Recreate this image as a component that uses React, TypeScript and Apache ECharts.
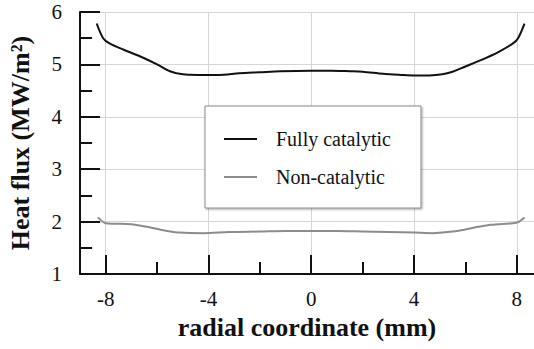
import React, { useEffect, useRef } from "react";
import * as echarts from "echarts";

const fullyX = [-8.35, -8.1, -7.85, -7.3, -6.65, -6.0, -5.5, -5.0, -4.4, -3.6, -2.8, -2.0, -1.2, 0, 0.75, 1.5, 2.0, 2.8, 3.5, 4.0, 4.6, 5.1, 5.5, 6.0, 6.6, 7.3, 7.85, 8.05, 8.3];
const fullyY = [5.78, 5.5, 5.4, 5.28, 5.15, 5.0, 4.87, 4.81, 4.8, 4.8, 4.83, 4.85, 4.87, 4.88, 4.88, 4.87, 4.86, 4.82, 4.8, 4.79, 4.79, 4.81, 4.86, 4.96, 5.08, 5.24, 5.4, 5.5, 5.78];

const nonX = [-8.3, -8.0, -7.0, -6.4, -5.8, -5.1, -4.2, -3.2, -2.0, -1.0, 0, 1.0, 2.0, 3.0, 4.0, 4.75, 5.3, 5.9, 6.5, 7.0, 7.85, 8.05, 8.3];
const nonY = [2.08, 1.97, 1.95, 1.9, 1.84, 1.79, 1.78, 1.8, 1.81, 1.82, 1.82, 1.82, 1.81, 1.8, 1.79, 1.78, 1.8, 1.84, 1.9, 1.94, 1.97, 1.99, 2.08];

const xMajorTicks = [-8, -4, 0, 4, 8];
const xMinorTicks = [-6, -2, 2, 6];
const yMajorTicks = [2, 3, 4, 5, 6];
const yLabels = [1, 2, 3, 4, 5, 6];
const yMinorTicks = [1.5, 2.5, 3.5, 4.5, 5.5];

const X_MIN = -9;
const X_MAX = 8.67;

const FONT = "'Liberation Serif', 'Times New Roman', Times, serif";

export default function App() {
  const ref = useRef<HTMLDivElement>(null);
  useEffect(() => {
    const chart = echarts.init(ref.current!, null, { renderer: "svg" });
    const pairs = (xs: number[], ys: number[]) => xs.map((x, i) => [x, ys[i]]);
    const majorLen = 0.78;
    const minorLen = 0.47;
    const tickLines = [
      ...yMajorTicks.map((v) => [{ coord: [X_MIN, v] }, { coord: [X_MIN + majorLen, v] }]),
      ...yMinorTicks.map((v) => [{ coord: [X_MIN, v] }, { coord: [X_MIN + minorLen, v] }]),
    ];
    chart.setOption({
      animation: false,
      backgroundColor: "#fff",
      textStyle: { fontFamily: FONT },
      grid: { left: 80, right: 0, top: 12, bottom: 75, outerBoundsMode: "none", containLabel: false },
      legend: {
        orient: "vertical",
        left: 205,
        top: 106,
        itemWidth: 33,
        itemHeight: 17,
        itemGap: 18,
        padding: [23, 30, 21, 18],
        backgroundColor: "#fff",
        borderColor: "#8a8a8a",
        borderWidth: 1,
        shadowColor: "rgba(0,0,0,0.35)",
        shadowBlur: 2,
        shadowOffsetX: 1,
        shadowOffsetY: 1,
        itemStyle: { opacity: 0 },
        textStyle: { fontFamily: FONT, fontSize: 20, color: "#111", padding: [0, 0, 0, 14] },
        data: ["Fully catalytic", "Non-catalytic"],
      },
      xAxis: [
        {
          type: "value",
          min: X_MIN,
          max: X_MAX,
          name: "radial coordinate (mm)",
          nameLocation: "middle",
          nameGap: 40,
          nameTextStyle: { fontFamily: FONT, fontSize: 26, fontWeight: "bold", color: "#111" },
          axisLine: { show: true, onZero: false, lineStyle: { color: "#111", width: 2 } },
          axisTick: { show: true, inside: true, length: 19, customValues: xMajorTicks, lineStyle: { color: "#111", width: 2 } },
          axisLabel: { customValues: xMajorTicks, margin: 14, fontFamily: FONT, fontSize: 21, color: "#111", formatter: (v: number) => String(v) },
          splitLine: { show: true, lineStyle: { color: "#d6d6d6", width: 1 } },
        },
        {
          type: "value",
          min: X_MIN,
          max: X_MAX,
          position: "bottom",
          axisLine: { show: false, onZero: false },
          axisTick: { show: true, inside: true, length: 12, customValues: xMinorTicks, lineStyle: { color: "#111", width: 2 } },
          axisLabel: { show: false },
          splitLine: { show: false },
        },
      ],
      yAxis: {
        type: "value",
        min: 1,
        max: 6,
        position: "left",
        name: "Heat flux (MW/m²)",
        nameLocation: "middle",
        nameGap: 47,
        nameTextStyle: { fontFamily: FONT, fontSize: 26, fontWeight: "bold", color: "#111" },
        axisLine: { show: true, onZero: false, lineStyle: { color: "#111", width: 2 } },
        axisTick: { show: false },
        axisLabel: { customValues: yLabels, margin: 18, fontFamily: FONT, fontSize: 21, color: "#111" },
        splitLine: { show: true, lineStyle: { color: "#d6d6d6", width: 1 } },
      },
      series: [
        {
          name: "Fully catalytic",
          type: "line",
          smooth: 0.3,
          showSymbol: false,
          symbol: "none",
          data: pairs(fullyX, fullyY),
          lineStyle: { color: "#111", width: 2 },
          itemStyle: { color: "#111" },
          markLine: {
            silent: true,
            symbol: ["none", "none"],
            label: { show: false },
            lineStyle: { color: "#111", width: 2, type: "solid" },
            emphasis: { disabled: true },
            data: tickLines,
          },
        },
        {
          name: "Non-catalytic",
          type: "line",
          smooth: 0.3,
          showSymbol: false,
          symbol: "none",
          data: pairs(nonX, nonY),
          lineStyle: { color: "#8c8c8c", width: 2 },
          itemStyle: { color: "#8c8c8c" },
        },
      ],
    });
    return () => chart.dispose();
  }, []);
  return <div ref={ref} style={{ width: 534, height: 349, position: "absolute", left: 0, top: 0 }} />;
}
